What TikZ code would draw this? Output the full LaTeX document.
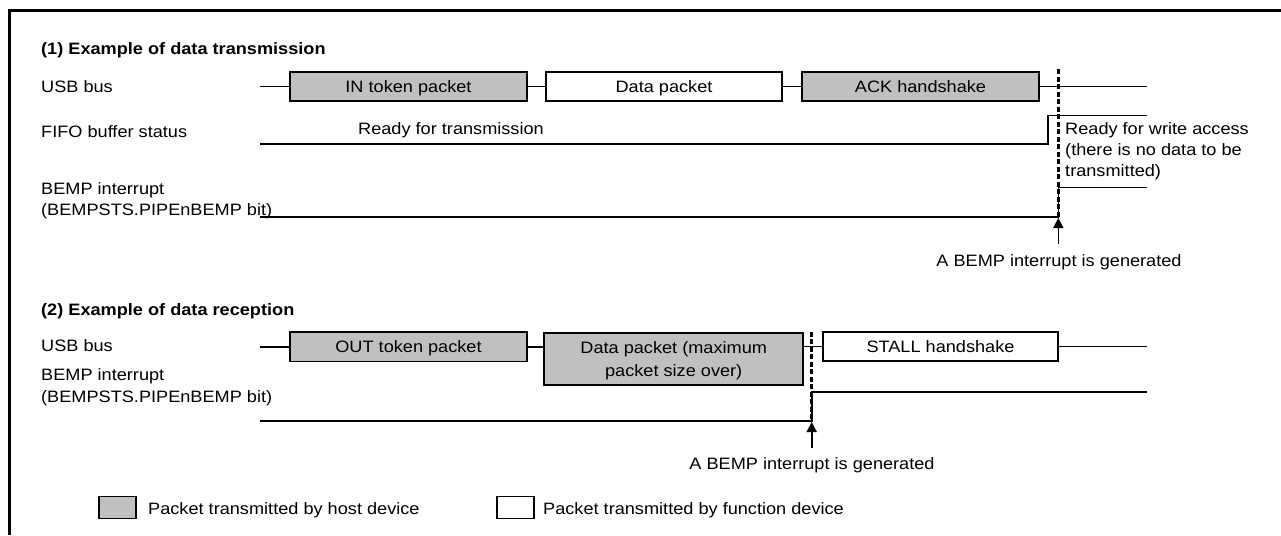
\documentclass[tikz,border=0pt]{standalone}
\usepackage{fontspec}
\setmainfont{Liberation Sans}[FakeStretch=1.1]
\usetikzlibrary{arrows.meta}
\definecolor{boxgray}{RGB}{192,192,192}
\begin{document}
\begin{tikzpicture}[x=1pt,y=-1pt,
  every node/.style={font=\fontsize{16.5}{21}\selectfont},
  lbl/.style={anchor=base west, inner sep=0},
  ttl/.style={anchor=base west, inner sep=0, font=\fontsize{16.5}{21}\selectfont\bfseries},
  note/.style={anchor=base, inner sep=0},
  pkt/.style={draw, line width=1.6pt, inner sep=0, align=center, text depth=0pt},
  hostpkt/.style={pkt, fill=boxgray},
  funcpkt/.style={pkt, fill=white},
  sig/.style={line width=1.6pt},
  evt/.style={line width=2.6pt, dash pattern=on 5pt off 2.5pt},
  trig/.style={line width=1.6pt, -{Triangle[length=10pt,width=10pt]}},
  frame/.style={line width=3pt},
]
\useasboundingbox (0,0) rectangle (1281,535);
% frame
\coordinate (fr1) at (9.5,535);
\coordinate (fr2) at (9.5,10.5);
\coordinate (fr3) at (1281,10.5);
\draw[frame] (fr1) -- (fr2) -- (fr3);

% ---------- section 1 ----------
\node[ttl] (t1) at (41,55) {(1) Example of data transmission};
\node[lbl] (l1) at (41,92) {USB bus};
\node[lbl] (l2) at (41,137.5) {FIFO buffer status};
\node[lbl] (l3) at (41,194) {BEMP interrupt};
\node[lbl] (l4) at (41,215) {(BEMPSTS.PIPEnBEMP bit)};

\node[hostpkt, minimum width=237, minimum height=29, text height=11.8pt] (in1) at (408.5,86.5) {IN token packet};
\node[funcpkt, minimum width=236, minimum height=29, text height=11.8pt] (dat1) at (664,86.5) {Data packet};
\node[hostpkt, minimum width=237, minimum height=29, text height=11.8pt] (ack1) at (920.5,86.5) {ACK handshake};
\coordinate (u1s) at (260,86.5);
\coordinate (u1e) at (1147,86.5);
\draw[sig] (u1s) -- (in1.west);
\draw[sig] (in1.east) -- (dat1.west);
\draw[sig] (dat1.east) -- (ack1.west);
\draw[sig] (ack1.east) -- (u1e);

% FIFO
\coordinate (f1s) at (260,144);
\coordinate (f1e) at (1147,115.3);
\draw[sig] (f1s) -- (1047.7,144) -- (1047.7,115.3) -- (f1e);
\node[lbl] (r1) at (358,134) {Ready for transmission};
\node[lbl] (w1) at (1065,134) {Ready for write access};
\node[lbl] (w2) at (1065,155) {(there is no data to be};
\node[lbl] (w3) at (1065,176) {transmitted)};

% BEMP 1
\coordinate (b1s) at (260,216.7);
\coordinate (b1e) at (1147,187.3);
\draw[sig] (b1s) -- (1058.3,216.7) -- (1058.3,187.3) -- (b1e);
\coordinate (d1t) at (1058.3,69);
\coordinate (d1b) at (1058.3,216.7);
\draw[evt] (d1t) -- (d1b);
\coordinate (a1s) at (1058.3,244);
\coordinate (a1t) at (1058.3,218);
\draw[trig] (a1s) -- (a1t);
\node[note] (n1) at (1059,266) {A BEMP interrupt is generated};

% ---------- section 2 ----------
\node[ttl] (t2) at (41,315) {(2) Example of data reception};
\node[lbl] (m1) at (41,351.5) {USB bus};
\node[lbl] (m2) at (41,380.5) {BEMP interrupt};
\node[lbl] (m3) at (41,402) {(BEMPSTS.PIPEnBEMP bit)};

\node[hostpkt, minimum width=237, minimum height=29.5, text height=11.8pt] (out2) at (408.5,346.7) {OUT token packet};
\node[hostpkt, minimum width=259, minimum height=52, font=\fontsize{16.5}{23.5}\selectfont] (dat2) at (673.7,359) {Data packet (maximum\\packet size over)};
\node[funcpkt, minimum width=235, minimum height=29, text height=11.8pt] (st2) at (940.5,346.5) {STALL handshake};
\coordinate (u2s) at (260,346.7);
\coordinate (u2e) at (1147,346.5);
\draw[sig] (u2s) -- (out2.west);
\draw[sig] (out2.east) -- (out2.east -| dat2.west);
\draw[sig] (st2.west -| dat2.east) -- (st2.west);
\draw[sig] (st2.east) -- (u2e);

% BEMP 2
\coordinate (b2s) at (260,420.7);
\coordinate (b2e) at (1147,391.7);
\draw[sig] (b2s) -- (811.7,420.7) -- (811.7,391.7) -- (b2e);
\coordinate (d2t) at (811.7,331.7);
\coordinate (d2b) at (811.7,420.7);
\draw[evt] (d2t) -- (d2b);
\coordinate (a2s) at (811.7,448);
\coordinate (a2t) at (811.7,422);
\draw[trig] (a2s) -- (a2t);
\node[note] (n2) at (812,469) {A BEMP interrupt is generated};

% ---------- legend ----------
\node[hostpkt, line width=1.2pt, minimum width=37, minimum height=22] (lg1) at (117.5,507.5) {};
\node[lbl] (lt1) at (148,514) {Packet transmitted by host device};
\node[funcpkt, line width=1.2pt, minimum width=37, minimum height=22] (lg2) at (515.5,507.5) {};
\node[lbl] (lt2) at (543,514) {Packet transmitted by function device};
\end{tikzpicture}
\end{document}
